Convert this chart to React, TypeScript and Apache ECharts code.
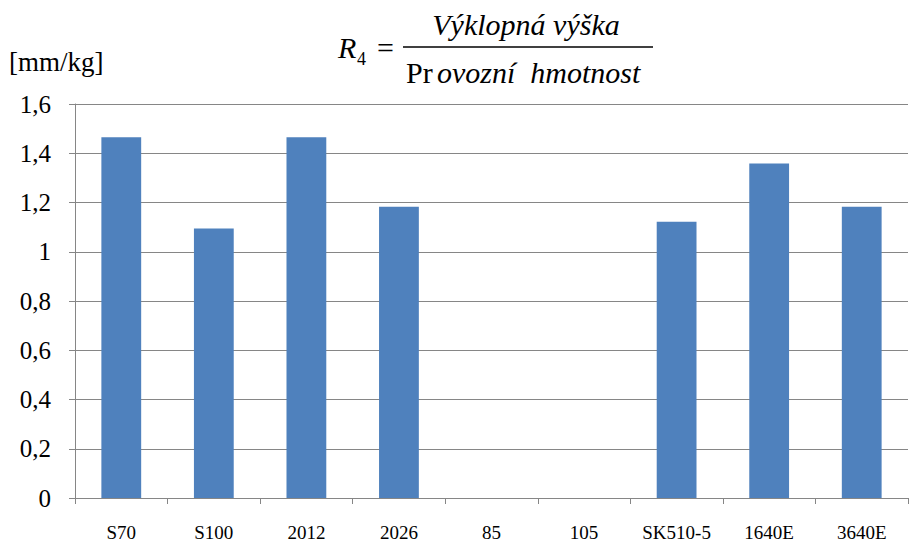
import React, { useEffect, useRef } from "react";
import * as echarts from "echarts";

const categories = ["S70", "S100", "2012", "2026", "85", "105", "SK510-5", "1640E", "3640E"];
const values = [1.465, 1.094, 1.465, 1.183, 0, 0, 1.122, 1.358, 1.183];
const yTickValues = [0, 0.2, 0.4, 0.6, 0.8, 1, 1.2, 1.4, 1.6];
const yTickLabels = ["0", "0,2", "0,4", "0,6", "0,8", "1", "1,2", "1,4", "1,6"];
const unitLabel = "[mm/kg]";

const SERIF = "Times New Roman";
const BASE = 16;

function txt(text: string, x: number, y: number, size: number, extra: any = {}) {
  const s = size / BASE;
  return {
    type: "text",
    x,
    y,
    scaleX: s,
    scaleY: s,
    style: {
      text,
      fontFamily: SERIF,
      fontSize: BASE,
      fill: "#000",
      align: "left",
      verticalAlign: "middle",
      ...extra,
    },
  };
}

export default function App() {
  const ref = useRef<HTMLDivElement>(null);
  useEffect(() => {
    if (!ref.current) return;
    const chart = echarts.init(ref.current, null, { renderer: "svg" });
    chart.setOption({
      animation: false,
      backgroundColor: "#ffffff",
      grid: { left: 75, right: 3, top: 104, bottom: 43 },
      xAxis: {
        type: "category",
        data: categories,
        axisLine: { lineStyle: { color: "#868686", width: 1 } },
        axisTick: { show: true, length: 6, inside: false, lineStyle: { color: "#868686" } },
        axisLabel: { show: false },
      },
      yAxis: {
        type: "value",
        min: yTickValues[0],
        max: yTickValues[yTickValues.length - 1],
        interval: 0.2,
        axisLine: { show: true, lineStyle: { color: "#868686", width: 1 } },
        axisTick: { show: true, length: 6, lineStyle: { color: "#868686" } },
        splitLine: { lineStyle: { color: "#868686", width: 1 } },
        axisLabel: { show: false },
      },
      series: [
        {
          type: "bar",
          data: values,
          barWidth: "43%",
          itemStyle: { color: "#4f81bd" },
        },
      ],
    });

    const graphics: any[] = [];
    yTickValues.forEach((v, i) => {
      const py = chart.convertToPixel({ yAxisIndex: 0 }, v) as number;
      graphics.push(txt(yTickLabels[i], 51, py, 25, { align: "right" }));
    });
    categories.forEach((c) => {
      const px = chart.convertToPixel({ xAxisIndex: 0 }, c) as number;
      graphics.push(txt(c, px, 532, 19, { align: "center" }));
    });
    graphics.push(txt(unitLabel, 9, 62, 27));
    graphics.push(txt("R", 338, 47, 30, { fontStyle: "italic" }));
    graphics.push(txt("4", 357, 59, 18));
    graphics.push(txt("=", 377, 47, 30));
    graphics.push({
      type: "line",
      shape: { x1: 403, y1: 47, x2: 653, y2: 47 },
      style: { stroke: "#000", lineWidth: 1.3 },
    });
    graphics.push(txt("Výklopná výška", 526, 24, 30, { fontStyle: "italic", align: "center" }));
    graphics.push(txt("Pr", 406, 72, 30));
    graphics.push(txt("ovozní  hmotnost", 437, 72, 30, { fontStyle: "italic" }));

    chart.setOption({ graphic: graphics });
    return () => chart.dispose();
  }, []);
  return <div ref={ref} style={{ width: 911, height: 541, position: "absolute", left: 0, top: 0 }} />;
}
